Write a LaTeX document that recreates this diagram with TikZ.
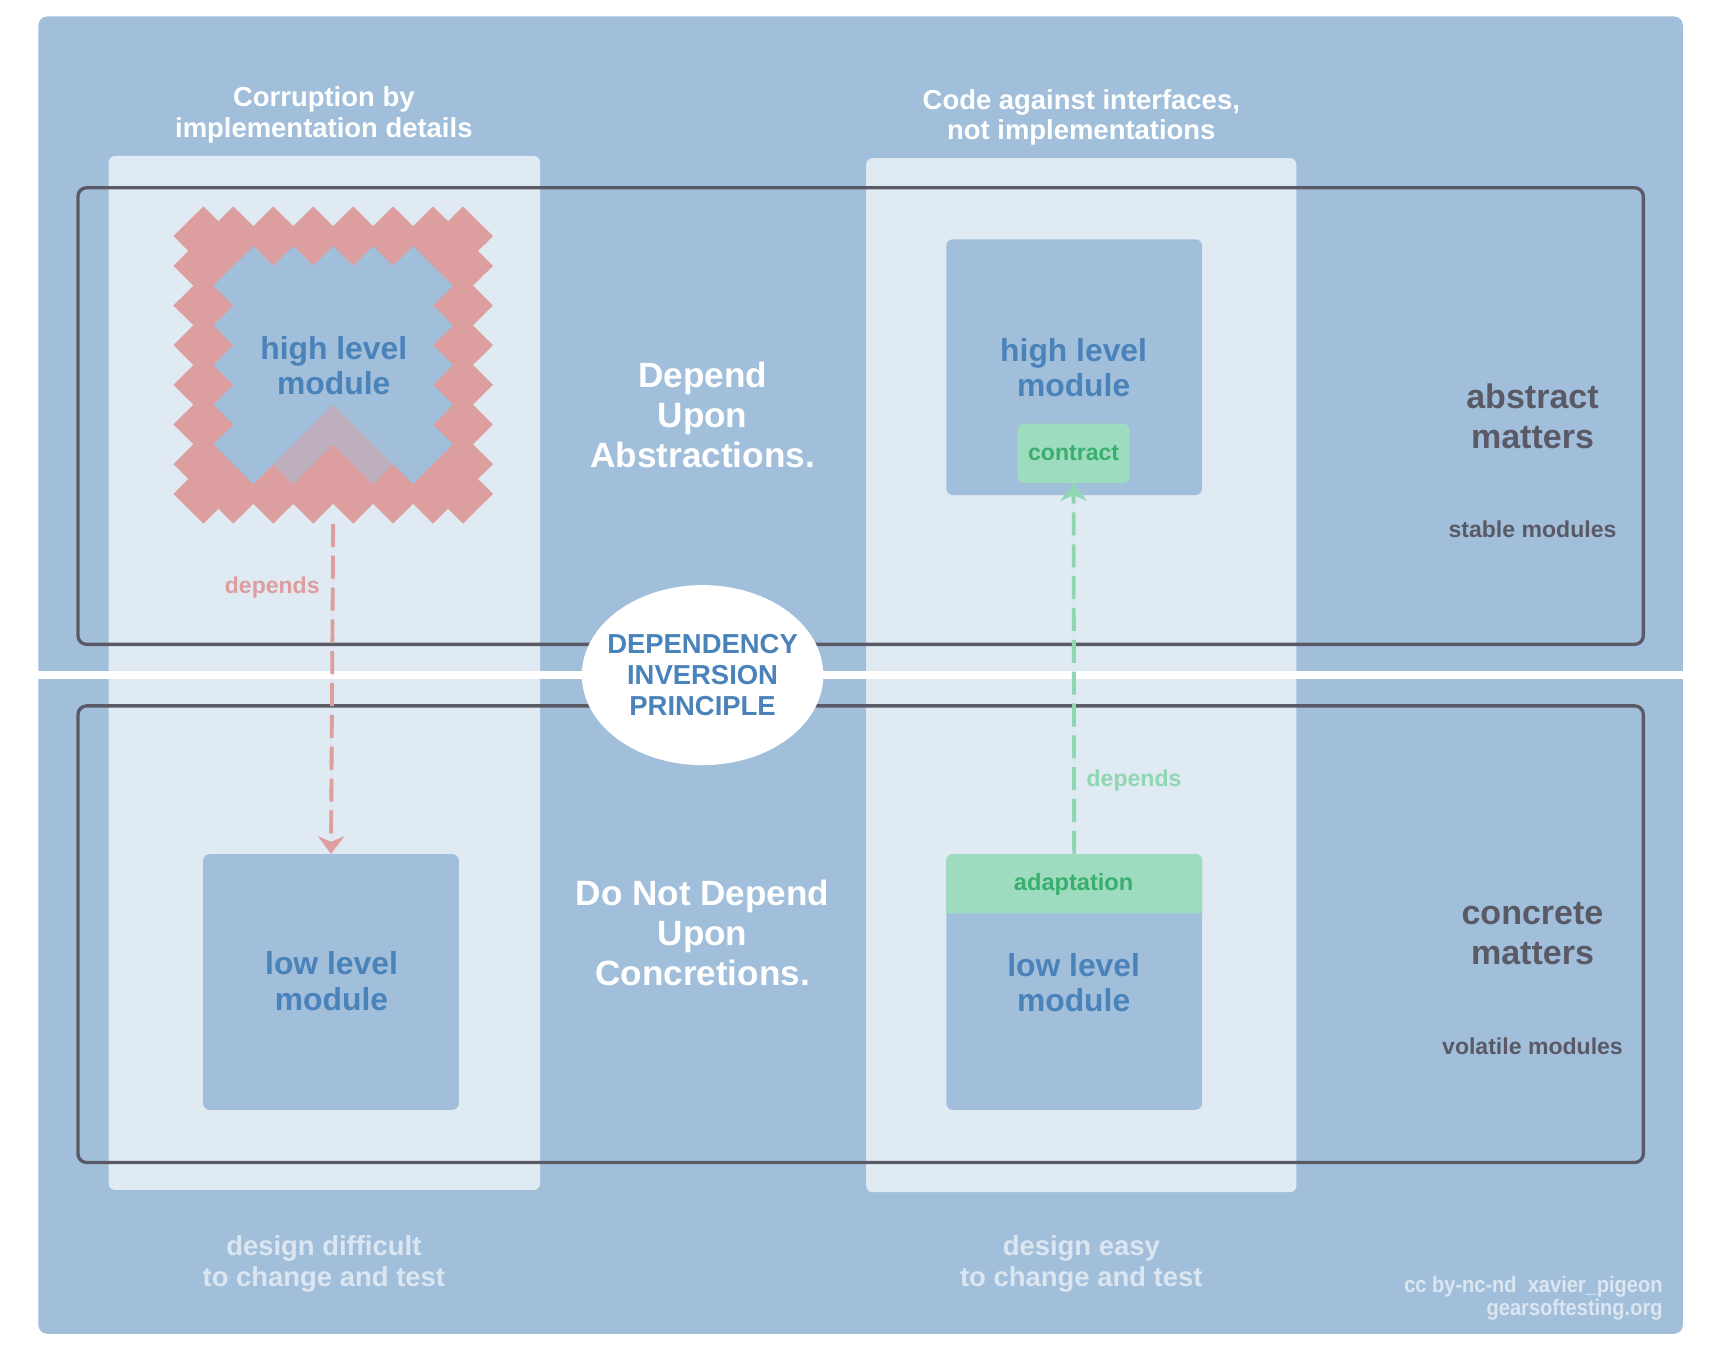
\documentclass[tikz,border=0pt]{standalone}
\usepackage{fontspec}
\setmainfont{Liberation Sans}
\newfontfamily\narrowfont{Liberation Sans}[FakeStretch=0.89]
\usetikzlibrary{arrows.meta,shapes.geometric}
\definecolor{bgblue}{HTML}{A1BFDB}
\definecolor{lightpanel}{HTML}{E0EAF3}
\definecolor{txtblue}{HTML}{4A82BA}
\definecolor{zigred}{HTML}{DC9E9E}
\definecolor{mauve}{HTML}{BDAFBE}
\definecolor{greenbox}{HTML}{9EDCBF}
\definecolor{greentxt}{HTML}{3AAE6E}
\definecolor{greenarrow}{HTML}{90D6B3}
\definecolor{darkgray}{HTML}{5A5A66}
\definecolor{footcol}{HTML}{DCE6F1}
\tikzset{
  fnt/.style 2 args={font=\fontsize{#1}{#2}\selectfont\bfseries},
  panel/.style={fill=lightpanel, rounded corners=6pt},
  frame/.style={draw=darkgray, line width=3pt, rounded corners=8pt},
  modbox/.style={fill=bgblue, rounded corners=6pt, minimum width=233pt, minimum height=233pt, inner sep=0pt},
  modtext/.style={align=center, text=txtblue, fnt={29}{32.5}},
  bigwhite/.style={align=center, text=white, fnt={32}{36.5}},
  sidebig/.style={align=center, text=darkgray, fnt={31}{36.5}},
  sidesmall/.style={align=center, text=darkgray, fnt={21}{24}},
  titletxt/.style={align=center, text=white, fnt={25}{28}},
  foottxt/.style={align=center, text=footcol, fnt={25}{28}},
  deplabel/.style={fnt={21}{24}},
  contractbox/.style={fill=greenbox, rounded corners=6pt, minimum width=102pt, minimum height=54pt, inner sep=0pt, text=greentxt, fnt={21}{24}},
  deparrow/.style={line width=3.5pt, dash pattern=on 21pt off 8pt, -{Stealth[length=16pt, width=24pt, inset=5pt]}},
}
\begin{document}
\begin{tikzpicture}[x=1pt,y=-1pt]
\useasboundingbox (0,0) rectangle (1565,1228);
% background
\fill[bgblue, rounded corners=8pt] (35,15) rectangle (1533,1215);
% light panels
\fill[panel] (99,142) rectangle (492,1084);
\fill[panel] (789,144) rectangle (1181,1086);
% white separator
\fill[white] (35,611) rectangle (1533,618.5);
% frames
\draw[frame] (71,171) rectangle (1497,587);
\draw[frame] (71,643) rectangle (1497,1059);
% left: corrupted high level module
\begin{scope}[shift={(158,188)}, xscale=18.19, yscale=18.06]
  \fill[zigred] (0,1.5) -- (1.5,0) -- (2.25,0.75) -- (3,0) -- (4,1) -- (5,0) -- (6,1) -- (7,0) -- (8,1) -- (9,0) -- (10,1) -- (11,0) -- (12,1) -- (13,0) -- (13.75,0.75) -- (14.5,0) -- (16,1.5)
    -- (15.25,2.25) -- (16,3) -- (15,4) -- (16,5) -- (15,6) -- (16,7) -- (15,8) -- (16,9) -- (15,10) -- (16,11) -- (15,12) -- (16,13) -- (15.25,13.75) -- (16,14.5)
    -- (14.5,16) -- (13.75,15.25) -- (13,16) -- (12,15) -- (11,16) -- (10,15) -- (9,16) -- (8,15) -- (7,16) -- (6,15) -- (5,16) -- (4,15) -- (3,16) -- (2.25,15.25) -- (1.5,16)
    -- (0,14.5) -- (0.75,13.75) -- (0,13) -- (1,12) -- (0,11) -- (1,10) -- (0,9) -- (1,8) -- (0,7) -- (1,6) -- (0,5) -- (1,4) -- (0,3) -- (0.75,2.25) -- cycle;
  \fill[bgblue] (2,4) -- (4,2) -- (5,3) -- (6,2) -- (7,3) -- (8,2) -- (9,3) -- (10,2) -- (11,3) -- (12,2) -- (14,4)
    -- (13,5) -- (14,6) -- (13,7) -- (14,8) -- (13,9) -- (14,10) -- (13,11) -- (14,12)
    -- (12,14) -- (11,13) -- (10,14) -- (8,12) -- (6,14) -- (5,13) -- (4,14) -- (2,12)
    -- (3,11) -- (2,10) -- (3,9) -- (2,8) -- (3,7) -- (2,6) -- (3,5) -- cycle;
  \fill[mauve] (8,10) -- (11,13) -- (10,14) -- (8,12) -- (6,14) -- (5,13) -- cycle;
\end{scope}
\node[minimum width=291pt, minimum height=289pt, inner sep=0pt] (hlA) at (303.5,332.5) {};
\node[modtext] (hlAtext) at (304,333) {high level\\module};
% left low level module
\node[modbox] (llA) at (301.5,894.5) {};
\node[modtext] (llAtext) at (302,894) {low level\\module};
% right high level module
\node[modbox] (hlB) at (978.5,334.5) {};
\node[modtext] (hlBtext) at (978,335) {high level\\module};
\node[contractbox] (ct) at (978,413) {contract};
% right low level module with adaptation
\node[modbox] (llB) at (978.5,894.5) {};
\fill[greenbox, rounded corners=6pt] (862,832) -- (862,778) -- (1095,778) -- (1095,832);
\node[text=greentxt, fnt={21.5}{24}] (adapt) at (978,806) {adaptation};
\node[modtext] (llBtext) at (978,895) {low level\\module};
% dependency arrows
\draw[deparrow, draw=zigred, fill=zigred] (hlA.south) -- (llA.north);
\node[deplabel, text=zigred] (depA) at (248,535) {depends};
\draw[deparrow, draw=greenarrow, fill=greenarrow] (llB.north) -- (ct.south);
\node[deplabel, text=greenarrow] (depB) at (1033,711) {depends};
% central ellipse
\node[ellipse, fill=white, minimum width=220pt, minimum height=164pt, inner sep=0pt] (dip) at (640,615) {};
\node[align=center, text=txtblue, fnt={25}{28.5}] (diptext) at (dip.center) {DEPENDENCY\\INVERSION\\PRINCIPLE};
% texts
\node[titletxt] (t1) at (295,105) {Corruption by\\implementation details};
\node[titletxt] (t2) at (985,107) {Code against interfaces,\\not implementations};
\node[bigwhite] (dua) at (640,378) {Depend\\Upon\\Abstractions.};
\node[bigwhite] (dnd) at (640,850) {Do Not Depend\\Upon\\Concretions.};
\node[sidebig] (am) at (1396,379) {abstract\\matters};
\node[sidesmall] (sm) at (1396,482) {stable modules};
\node[sidebig] (cm) at (1396,850) {concrete\\matters};
\node[sidesmall] (vm) at (1396,953) {volatile modules};
\node[foottxt] (f1) at (295,1151.5) {design difficult\\to change and test};
\node[foottxt] (f2) at (985,1151.5) {design easy\\to change and test};
\node[anchor=east, align=right, text=footcol, font=\narrowfont\fontsize{20.5}{21.5}\selectfont\bfseries] (cred) at (1518,1182.5) {cc by-nc-nd\ \ xavier\_pigeon\\gearsoftesting.org};
\end{tikzpicture}
\end{document}
